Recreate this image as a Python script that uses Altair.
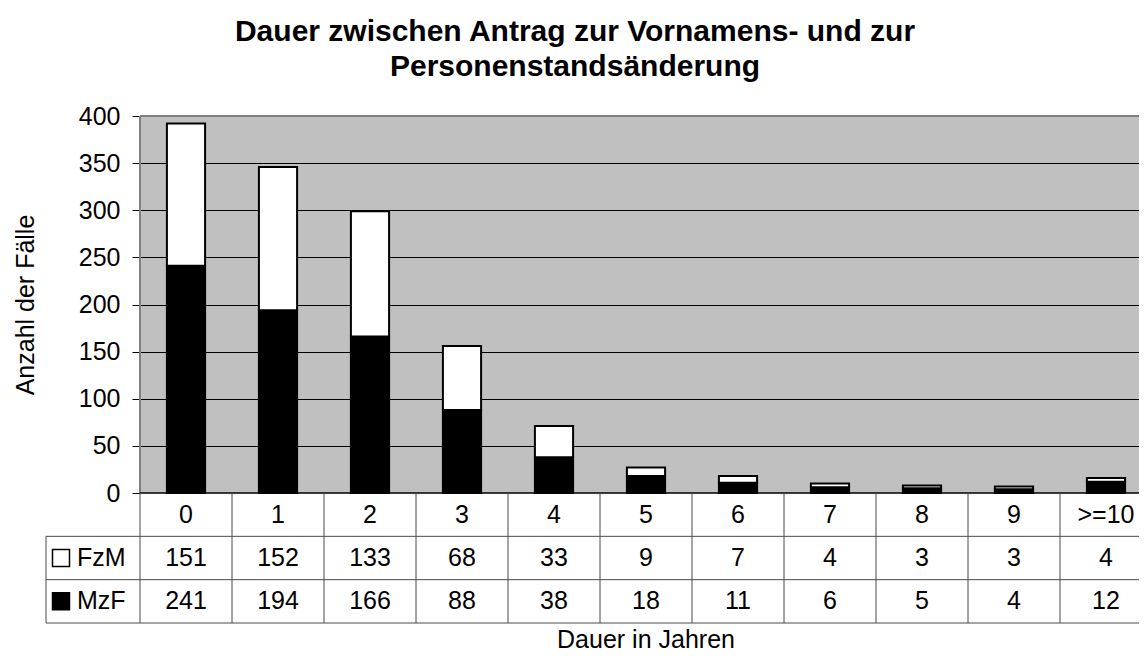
import altair as alt
import pandas as pd

# ---------------- data ----------------
categories = ["0", "1", "2", "3", "4", "5", "6", "7", "8", "9", ">=10"]
fzm = [151, 152, 133, 68, 33, 9, 7, 4, 3, 3, 4]
mzf = [241, 194, 166, 88, 38, 18, 11, 6, 5, 4, 12]
series_names = ["FzM", "MzF"]
series_colors = ["white", "black"]
y_ticks = [0, 50, 100, 150, 200, 250, 300, 350, 400]
title_lines = ["Dauer zwischen Antrag zur Vornamens- und zur", "Personenstandsänderung"]
x_title = "Dauer in Jahren"
y_title = "Anzahl der Fälle"
table_rows = ["cat", "FzM", "MzF"]

# ---------------- layout ----------------
PLOT_W = 1012
PLOT_H = 377
TABLE_H = 130
TOTAL_H = PLOT_H + TABLE_H
FONT = "Liberation Sans"
TBL = "#4a4a4a"
FS = 25

bars = pd.DataFrame({
    "cat": categories * 2,
    "series": ["MzF"] * len(categories) + ["FzM"] * len(categories),
    "value": mzf + fzm,
    "order": [0] * len(categories) + [1] * len(categories),
})
table = pd.DataFrame({
    "cat": categories * 3,
    "row": ["cat"] * len(categories) + ["FzM"] * len(categories) + ["MzF"] * len(categories),
    "label": categories + [str(v) for v in fzm] + [str(v) for v in mzf],
})
legend_df = pd.DataFrame({"row": series_names, "series": series_names})
one = pd.DataFrame({"a": [0]})

xs = alt.Scale(domain=categories, paddingInner=0, paddingOuter=0)
rowscale = alt.Scale(domain=table_rows, range=[PLOT_H, TOTAL_H], paddingInner=0, paddingOuter=0)
fillscale = alt.Scale(domain=series_names, range=series_colors)

white_bg = alt.Chart(one).mark_rect(fill="white").encode(
    x=alt.value(0), x2=alt.value("width"), y=alt.value(PLOT_H), y2=alt.value(TOTAL_H)
)

bar = alt.Chart(bars).mark_bar(
    width=alt.RelativeBandSize(0.415), stroke="black", strokeWidth=2
).encode(
    x=alt.X("cat:N", scale=xs, axis=None, sort=categories),
    y=alt.Y(
        "value:Q",
        stack="zero",
        scale=alt.Scale(domain=[0, 400], range=[PLOT_H, 0], nice=False),
        axis=alt.Axis(
            values=y_ticks, grid=True, gridColor="black", gridWidth=1,
            domain=False, ticks=True, tickColor="black", tickSize=8, tickWidth=1,
            labelFontSize=FS, labelFont=FONT, labelColor="black", labelPadding=12,
            labelOverlap=False,
            title=y_title, titleFontSize=25, titleFont=FONT, titleFontWeight="normal",
            titleColor="black", titleAngle=270, titleX=-115, titleY=PLOT_H / 2,
            titleBaseline="middle", titleAlign="center",
        ),
    ),
    fill=alt.Fill("series:N", scale=fillscale, legend=None),
    order=alt.Order("order:Q", sort="ascending"),
)

top_border = alt.Chart(one).mark_rule(color="#808080", strokeWidth=2).encode(
    x=alt.value(0), x2=alt.value("width"), y=alt.value(0)
)
left_border = alt.Chart(one).mark_rule(color="#808080", strokeWidth=2).encode(
    x=alt.value(0), y=alt.value(0), y2=alt.value(PLOT_H)
)
x_axis_line = alt.Chart(one).mark_rule(color="black", strokeWidth=1.5).encode(
    x=alt.value(0), x2=alt.value("width"), y=alt.value(PLOT_H)
)

vlines = alt.Chart(pd.DataFrame({"cat": categories})).mark_rule(color=TBL, strokeWidth=1).encode(
    x=alt.X("cat:N", scale=xs, axis=None, bandPosition=0),
    y=alt.value(PLOT_H), y2=alt.value(TOTAL_H),
)
hlines = alt.Chart(pd.DataFrame({"row": table_rows})).mark_rule(color=TBL, strokeWidth=1).encode(
    y=alt.Y("row:N", scale=rowscale, axis=None, bandPosition=1),
    x=alt.value(-94), x2=alt.value("width"),
)
left_tbl = alt.Chart(pd.DataFrame({"row": ["FzM"]})).mark_rule(color=TBL, strokeWidth=1).encode(
    y=alt.Y("row:N", scale=rowscale, axis=None, bandPosition=0),
    y2=alt.value(TOTAL_H), x=alt.value(-94),
)

cells = alt.Chart(table).mark_text(
    fontSize=FS, font=FONT, color="black", baseline="middle", align="center"
).encode(
    x=alt.X("cat:N", scale=xs, axis=None),
    y=alt.Y("row:N", scale=rowscale, axis=None),
    text="label:N",
)

legend_sym = alt.Chart(legend_df).mark_square(
    size=289, stroke="black", strokeWidth=1.5, filled=True, opacity=1
).encode(
    x=alt.value(-79),
    y=alt.Y("row:N", scale=rowscale, axis=None),
    fill=alt.Fill("series:N", scale=fillscale, legend=None),
)
legend_txt = alt.Chart(legend_df).mark_text(
    fontSize=FS, font=FONT, color="black", baseline="middle", align="left"
).encode(
    x=alt.value(-63),
    y=alt.Y("row:N", scale=rowscale, axis=None),
    text="series:N",
)

title = alt.Chart(one).mark_text(
    fontSize=30, font=FONT, fontWeight="bold", color="black",
    align="center", baseline="alphabetic", lineHeight=35,
).encode(x=alt.value(435), y=alt.value(-75), text=alt.value(title_lines))

xtitle = alt.Chart(one).mark_text(
    fontSize=25, font=FONT, color="black", align="center", baseline="alphabetic"
).encode(x=alt.value(PLOT_W / 2), y=alt.value(532), text=alt.value(x_title))

chart = alt.layer(
    white_bg, bar, top_border, left_border, x_axis_line,
    vlines, hlines, left_tbl, cells, legend_sym, legend_txt, title, xtitle,
).resolve_scale(y="independent").properties(
    width=PLOT_W, height=TOTAL_H,
    autosize=alt.AutoSizeParams(type="none"),
    padding={"left": 132, "top": 108, "right": -13, "bottom": 32},
).configure_view(stroke=None, fill="#C0C0C0")

chart.save("out.html", embed_options={"renderer": "svg", "actions": False})
